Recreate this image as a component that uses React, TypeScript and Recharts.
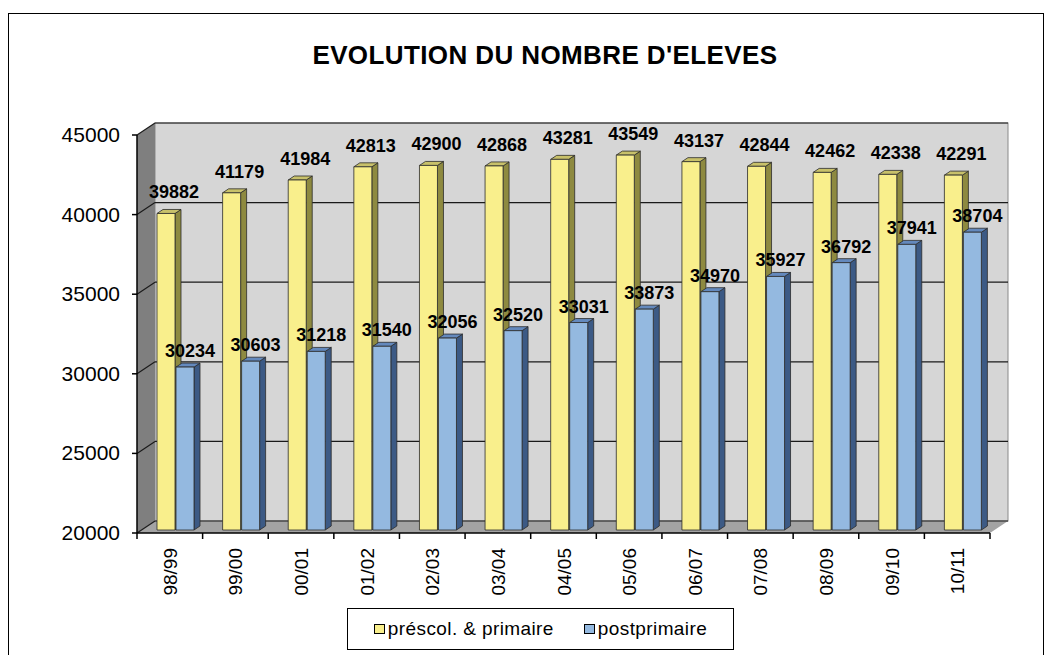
import React from "react";
import {
  BarChart,
  Bar,
  XAxis,
  YAxis,
  Legend,
  LabelList,
  ReferenceArea,
} from "recharts";

const CATEGORIES = [
  "98/99",
  "99/00",
  "00/01",
  "01/02",
  "02/03",
  "03/04",
  "04/05",
  "05/06",
  "06/07",
  "07/08",
  "08/09",
  "09/10",
  "10/11",
];

const PRESCOLAIRE = [
  39882, 41179, 41984, 42813, 42900, 42868, 43281, 43549, 43137, 42844, 42462,
  42338, 42291,
];

const POSTPRIMAIRE = [
  30234, 30603, 31218, 31540, 32056, 32520, 33031, 33873, 34970, 35927, 36792,
  37941, 38704,
];

const Y_TICKS = [20000, 25000, 30000, 35000, 40000, 45000];

const data = CATEGORIES.map((name, i) => ({
  name,
  prescol: PRESCOLAIRE[i],
  post: POSTPRIMAIRE[i],
}));

const FONT = "'Liberation Sans', Arial, sans-serif";

// depth of the 3d box (back wall offset)
const DEPTH_X = 18;
const DEPTH_Y = 12;
// depth of each column
const COL_X = 6;
const COL_Y = 4;
// shift of the columns into the box
const SHIFT_X = 6;
const SHIFT_Y = -3;

const YELLOW = { front: "#f9ef8c", side: "#8e8a40", top: "#c8c16a" };
const BLUE = { front: "#94b9e0", side: "#3c5a85", top: "#6489bd" };

function makeColumn(c: typeof YELLOW) {
  return (props: any) => {
    const { x, y, width, height } = props;
    const x0 = x + SHIFT_X;
    const y0 = y + SHIFT_Y;
    const x1 = x0 + width;
    const y1 = y0 + height;
    return (
      <g stroke="#2b2b2b" strokeWidth={0.8} strokeLinejoin="round">
        <polygon
          points={`${x1},${y0} ${x1 + COL_X},${y0 - COL_Y} ${x1 + COL_X},${y1 - COL_Y} ${x1},${y1}`}
          fill={c.side}
        />
        <polygon
          points={`${x0},${y0} ${x0 + COL_X},${y0 - COL_Y} ${x1 + COL_X},${y0 - COL_Y} ${x1},${y0}`}
          fill={c.top}
        />
        <rect x={x0} y={y0} width={width} height={height} fill={c.front} />
      </g>
    );
  };
}

const Walls = (props: any) => {
  const { x, y, width, height } = props;
  const bottom = y + height;
  const yOf = (v: number) => y + (height * (45000 - v)) / 25000;
  return (
    <g>
      <rect
        x={x + DEPTH_X}
        y={y - DEPTH_Y}
        width={width}
        height={height}
        fill="#d6d6d6"
        stroke="#8a8a8a"
        strokeWidth={1}
      />
      <polygon
        points={`${x},${y} ${x + DEPTH_X},${y - DEPTH_Y} ${x + DEPTH_X},${bottom - DEPTH_Y} ${x},${bottom}`}
        fill="#7f7f7f"
      />
      <polygon
        points={`${x},${bottom} ${x + DEPTH_X},${bottom - DEPTH_Y} ${x + width + DEPTH_X},${bottom - DEPTH_Y} ${x + width},${bottom}`}
        fill="#a3a3a3"
      />
      {Y_TICKS.map((v) => (
        <g key={v} stroke="#1a1a1a" strokeWidth={1.2}>
          <line x1={x} y1={yOf(v)} x2={x + DEPTH_X} y2={yOf(v) - DEPTH_Y} />
          <line
            x1={x + DEPTH_X}
            y1={yOf(v) - DEPTH_Y}
            x2={x + width + DEPTH_X}
            y2={yOf(v) - DEPTH_Y}
          />
        </g>
      ))}
    </g>
  );
};

const XTick = (props: any) => {
  const { x, y, payload } = props;
  const band = 853 / CATEGORIES.length;
  const isLast = payload.index === CATEGORIES.length - 1;
  return (
    <g>
      <line x1={x - band / 2} y1={y - 8} x2={x - band / 2} y2={y - 2} stroke="#000" strokeWidth={1.5} />
      {isLast && (
        <line x1={x + band / 2} y1={y - 8} x2={x + band / 2} y2={y - 2} stroke="#000" strokeWidth={1.5} />
      )}
      <text
        transform={`translate(${x + 7},${y + 7}) rotate(-90)`}
        textAnchor="end"
        fontSize={19}
        fontFamily={FONT}
        fill="#000"
      >
        {payload.value}
      </text>
    </g>
  );
};

const YTick = (props: any) => {
  const { x, y, payload } = props;
  return (
    <text
      x={x}
      y={y + 7}
      textAnchor="end"
      fontSize={21}
      fontFamily={FONT}
      fill="#000"
    >
      {payload.value}
    </text>
  );
};

const makeLabel = (dx: number, dy: number) => (props: any) => {
  const { x, y, width, value } = props;
  return (
    <text
      x={x + width / 2 + dx}
      y={y + dy}
      textAnchor="middle"
      fontSize={18}
      fontWeight="bold"
      fontFamily={FONT}
      fill="#000"
    >
      {value}
    </text>
  );
};

const LegendBox = () => (
  <div
    style={{
      width: 385,
      height: 40,
      border: "1.5px solid #000",
      background: "#fff",
      display: "flex",
      alignItems: "center",
      justifyContent: "center",
      gap: 30,
      fontFamily: FONT,
      fontSize: 19,
      letterSpacing: 0.4,
    }}
  >
    <span style={{ display: "flex", alignItems: "center" }}>
      <span
        style={{
          width: 9,
          height: 8,
          background: YELLOW.front,
          border: "1px solid #000",
          marginRight: 3,
        }}
      />
      préscol. &amp; primaire
    </span>
    <span style={{ display: "flex", alignItems: "center" }}>
      <span
        style={{
          width: 9,
          height: 8,
          background: BLUE.front,
          border: "1px solid #000",
          marginRight: 3,
        }}
      />
      postprimaire
    </span>
  </div>
);

export default function App() {
  return (
    <div
      style={{
        position: "relative",
        width: 1053,
        height: 655,
        overflow: "hidden",
        background: "#fff",
      }}
    >
      <style>{`body{margin:0}`}</style>
      <div
        style={{
          position: "absolute",
          left: 8,
          top: 13,
          width: 1036,
          height: 700,
          border: "1.5px solid #000",
          boxSizing: "border-box",
        }}
      />
      <div
        style={{
          position: "absolute",
          left: 0,
          top: 40,
          width: 1090,
          textAlign: "center",
          fontFamily: FONT,
          fontWeight: "bold",
          fontSize: 26,
          letterSpacing: 0.4,
        }}
      >
        EVOLUTION DU NOMBRE D'ELEVES
      </div>
      <div style={{ position: "absolute", left: 0, top: 0 }}>
        <BarChart
          width={1053}
          height={655}
          data={data}
          margin={{ top: 135, right: 63, bottom: 0, left: 0 }}
          barSize={18}
          barGap={1}
        >
          <ReferenceArea
            y1={20000}
            y2={45000}
            shape={<Walls />}
            ifOverflow="visible"
          />
          <XAxis
            dataKey="name"
            height={122}
            interval={0}
            tickLine={false}
            axisLine={{ stroke: "#000", strokeWidth: 1.5 }}
            tick={<XTick />}
          />
          <YAxis
            width={137}
            domain={[20000, 45000]}
            ticks={Y_TICKS}
            interval={0}
            tickSize={5}
            tickMargin={12}
            axisLine={{ stroke: "#000", strokeWidth: 1.5 }}
            tickLine={{ stroke: "#000", strokeWidth: 1.5 }}
            tick={<YTick />}
          />
          <Legend
            layout="horizontal"
            verticalAlign="middle"
            align="center"
            content={<LegendBox />}
            wrapperStyle={{ position: "absolute", left: 347, top: 608, width: 388 }}
          />
          <Bar
            dataKey="prescol"
            isAnimationActive={false}
            shape={makeColumn(YELLOW)}
          >
            <LabelList dataKey="prescol" content={makeLabel(14, -18)} />
          </Bar>
          <Bar
            dataKey="post"
            isAnimationActive={false}
            shape={makeColumn(BLUE)}
          >
            <LabelList dataKey="post" content={makeLabel(11, -13)} />
          </Bar>
        </BarChart>
      </div>
    </div>
  );
}
